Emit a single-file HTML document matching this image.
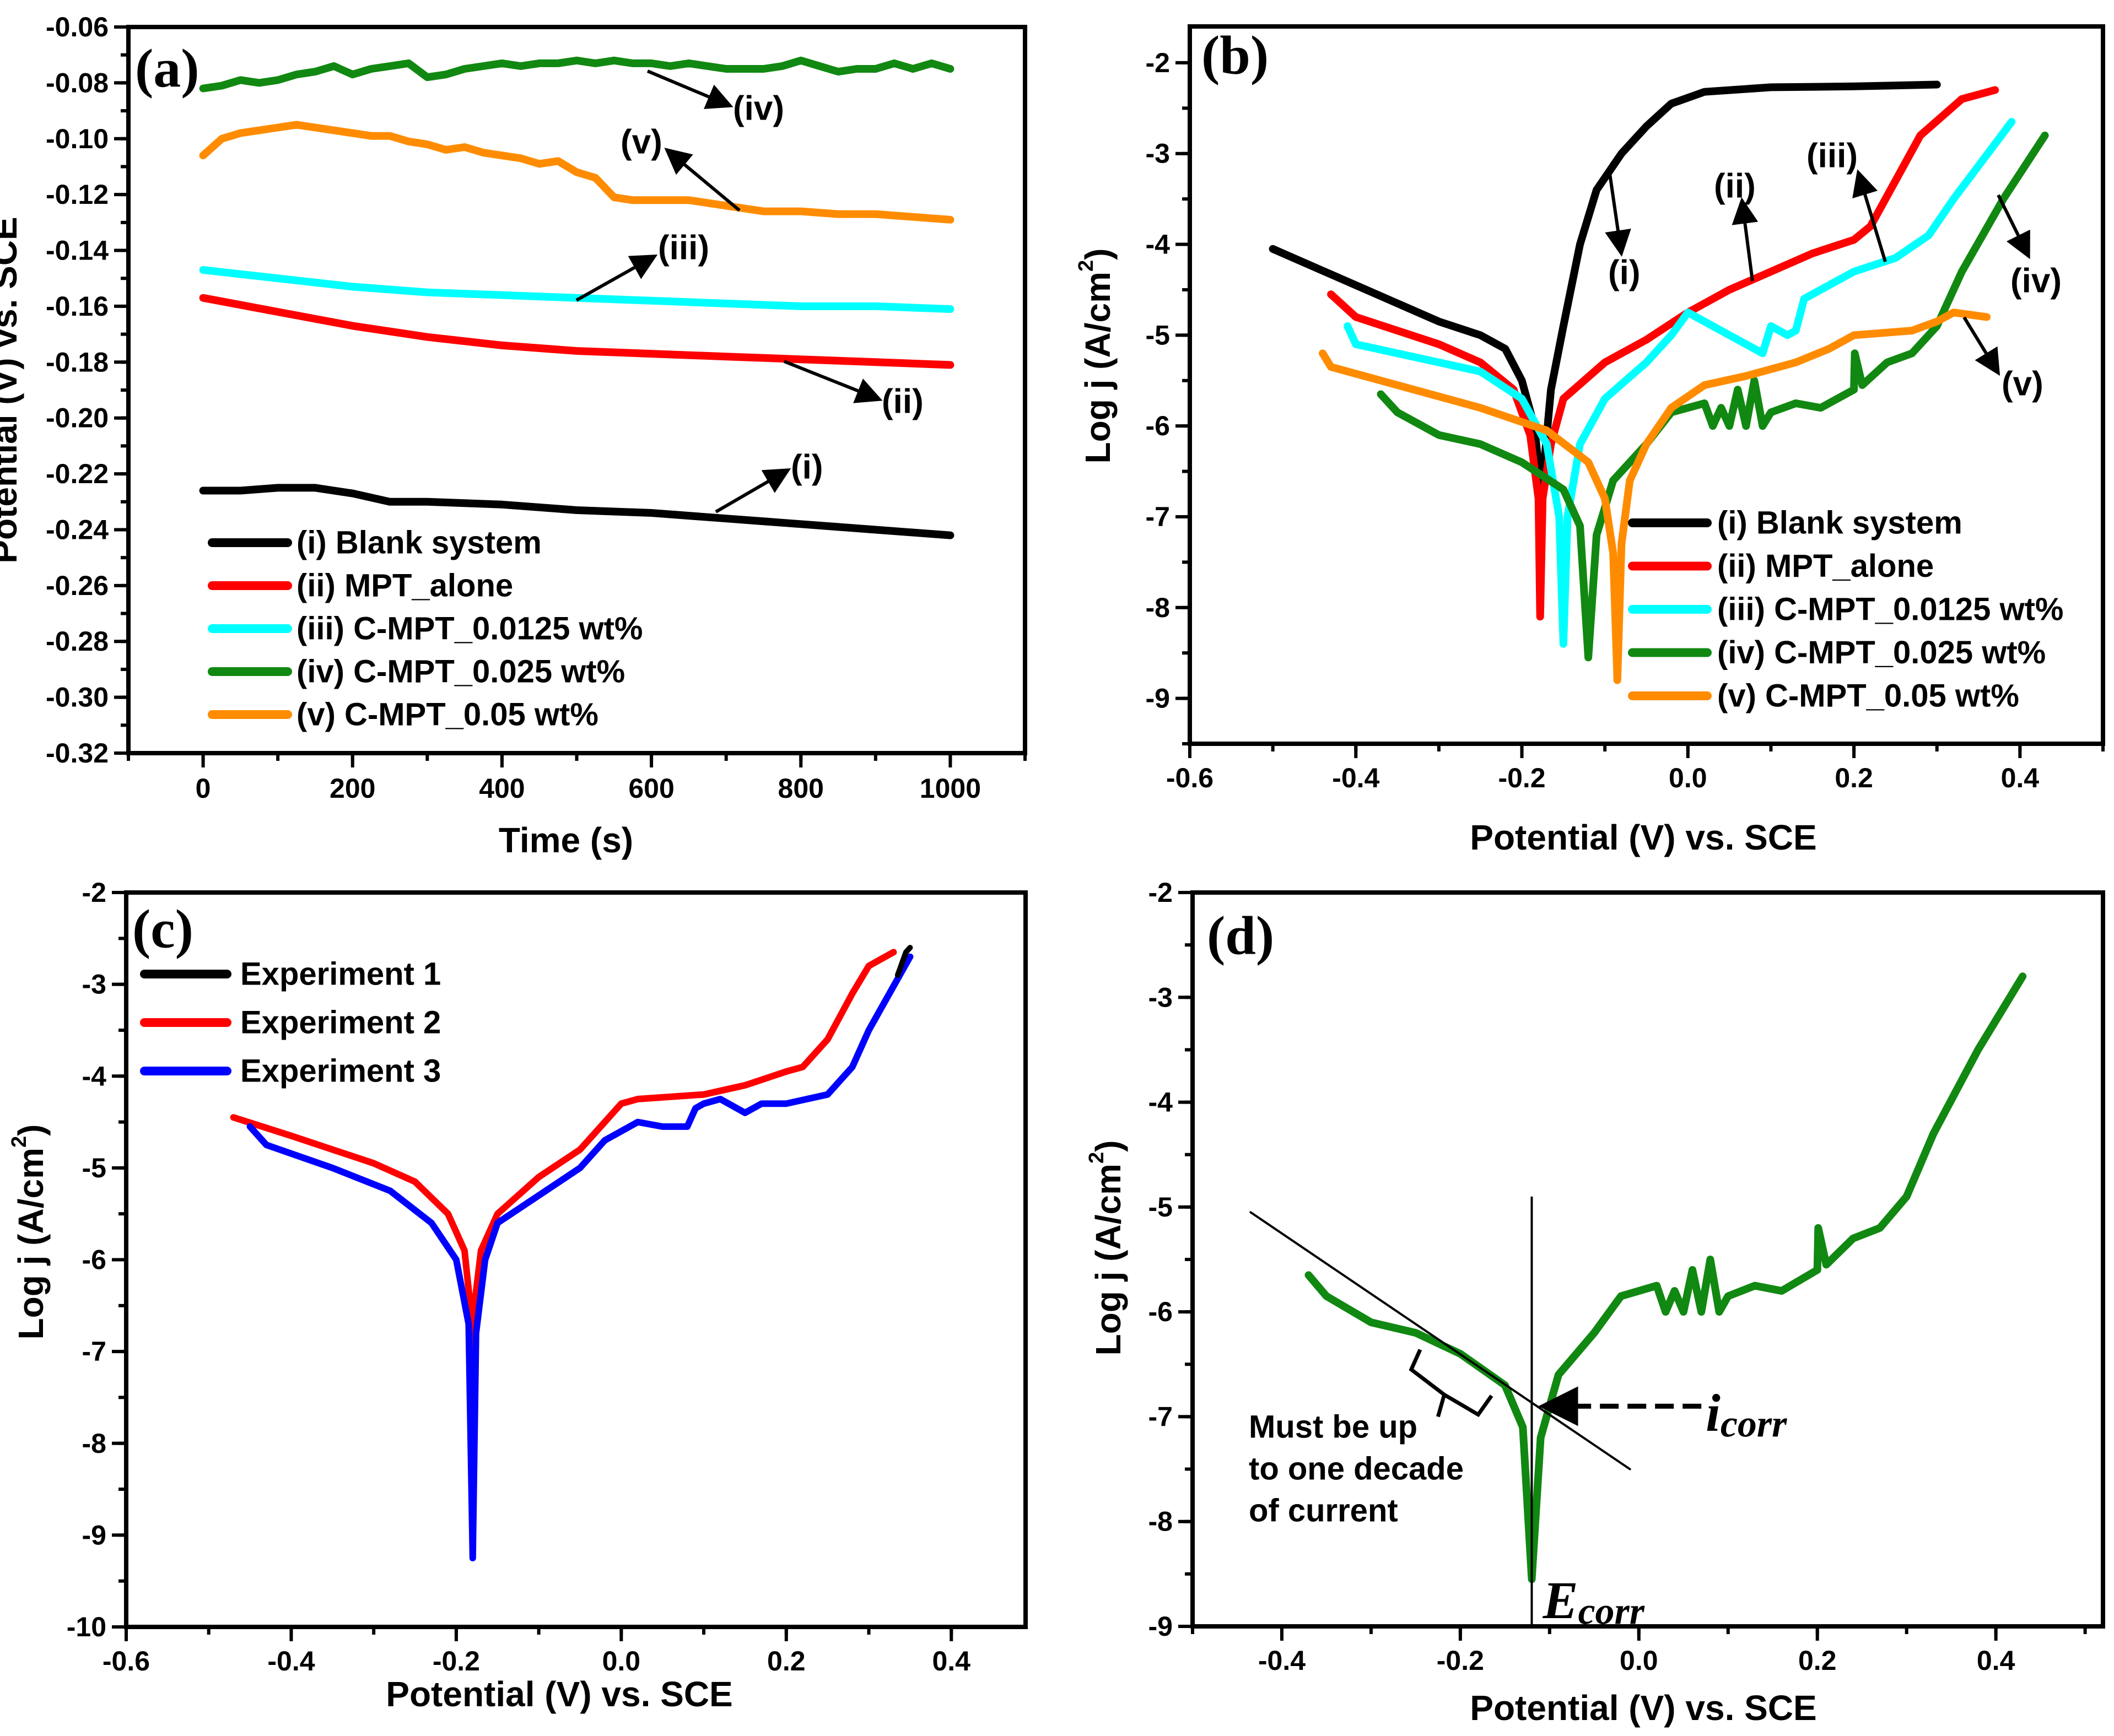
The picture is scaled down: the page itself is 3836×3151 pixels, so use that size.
<!DOCTYPE html>
<html><head><meta charset="utf-8">
<style>
html,body{margin:0;padding:0;background:#fff;}
svg{display:block;font-family:"Liberation Sans",Arial,sans-serif;}
.tl{font-size:50px;font-weight:bold;fill:#000;}
.at{font-size:64px;font-weight:bold;fill:#000;}
.lg{font-size:58px;font-weight:bold;fill:#000;}
.an{font-size:62px;font-weight:bold;fill:#000;}
.pl{font-family:"Liberation Serif",serif;font-size:100px;font-weight:bold;fill:#000;}
</style></head>
<body>
<svg id="fig" width="3836" height="3151" viewBox="0 0 3836 3151" xmlns="http://www.w3.org/2000/svg">
<defs>
<marker id="ah" markerWidth="8" markerHeight="8" refX="7" refY="4" orient="auto" markerUnits="strokeWidth"><path d="M0,0 L8,4 L0,8 Z" fill="#000"/></marker>
</defs>
<g id="layer"></g>
</svg>
<script>
// ---------- Panel (a) data: time (s) vs potential (V) ----------
const aBlankT=[0,50,100,150,200,250,300,400,500,600,700,800,900,1000];
const aBlankE=[-0.226,-0.226,-0.225,-0.225,-0.227,-0.230,-0.230,-0.231,-0.233,-0.234,-0.236,-0.238,-0.240,-0.242];
const aMptT=[0,100,200,300,400,500,600,700,800,900,1000];
const aMptE=[-0.157,-0.162,-0.167,-0.171,-0.174,-0.176,-0.177,-0.178,-0.179,-0.180,-0.181];
const aC0125T=[0,100,200,300,400,500,600,700,800,900,1000];
const aC0125E=[-0.147,-0.150,-0.153,-0.155,-0.156,-0.157,-0.158,-0.159,-0.160,-0.160,-0.161];
const aC025T=[0,25,50,75,100,125,150,175,200,225,250,275,300,325,350,375,400,425,450,475,500,525,550,575,600,625,650,675,700,725,750,775,800,825,850,875,900,925,950,975,1000];
const aC025E=[-0.082,-0.081,-0.079,-0.080,-0.079,-0.077,-0.076,-0.074,-0.077,-0.075,-0.074,-0.073,-0.078,-0.077,-0.075,-0.074,-0.073,-0.074,-0.073,-0.073,-0.072,-0.073,-0.072,-0.073,-0.073,-0.074,-0.073,-0.074,-0.075,-0.075,-0.075,-0.074,-0.072,-0.074,-0.076,-0.075,-0.075,-0.073,-0.075,-0.073,-0.075];
const aC05T=[0,25,50,75,100,125,150,175,200,225,250,275,300,325,350,375,400,425,450,475,500,525,550,575,600,650,700,750,800,850,900,950,1000];
const aC05E=[-0.106,-0.100,-0.098,-0.097,-0.096,-0.095,-0.096,-0.097,-0.098,-0.099,-0.099,-0.101,-0.102,-0.104,-0.103,-0.105,-0.106,-0.107,-0.109,-0.108,-0.112,-0.114,-0.121,-0.122,-0.122,-0.122,-0.124,-0.126,-0.126,-0.127,-0.127,-0.128,-0.129];
const aXTicks=[0,200,400,600,800,1000];
const aYTicks=[-0.06,-0.08,-0.10,-0.12,-0.14,-0.16,-0.18,-0.20,-0.22,-0.24,-0.26,-0.28,-0.30,-0.32];
const aYLabels=["-0.06","-0.08","-0.10","-0.12","-0.14","-0.16","-0.18","-0.20","-0.22","-0.24","-0.26","-0.28","-0.30","-0.32"];

// ---------- Panel (b) data: potential vs log j ----------
const bBlankE=[-0.5,-0.4,-0.3,-0.25,-0.22,-0.2,-0.185,-0.178,-0.176,-0.172,-0.165,-0.15,-0.13,-0.11,-0.08,-0.05,-0.02,0.02,0.1,0.2,0.3];
const bBlankJ=[-4.05,-4.45,-4.85,-5.0,-5.15,-5.5,-6.0,-6.6,-6.9,-6.3,-5.6,-4.9,-4.0,-3.4,-3.0,-2.7,-2.45,-2.32,-2.27,-2.26,-2.24];
const bMptE=[-0.43,-0.4,-0.3,-0.25,-0.21,-0.19,-0.18,-0.178,-0.175,-0.165,-0.15,-0.1,-0.05,0.0,0.05,0.1,0.15,0.2,0.22,0.25,0.28,0.33,0.37];
const bMptJ=[-4.55,-4.8,-5.1,-5.3,-5.6,-6.1,-6.8,-8.1,-6.8,-6.2,-5.7,-5.3,-5.05,-4.75,-4.5,-4.3,-4.1,-3.95,-3.8,-3.3,-2.8,-2.4,-2.3];
const bC0125E=[-0.41,-0.4,-0.35,-0.3,-0.25,-0.2,-0.17,-0.155,-0.15,-0.145,-0.13,-0.1,-0.05,-0.02,0.0,0.03,0.05,0.07,0.09,0.1,0.12,0.13,0.14,0.2,0.25,0.29,0.32,0.39];
const bC0125J=[-4.9,-5.1,-5.2,-5.3,-5.4,-5.7,-6.2,-7.0,-8.4,-7.0,-6.2,-5.7,-5.3,-5.0,-4.75,-4.9,-5.0,-5.1,-5.2,-4.9,-5.0,-4.95,-4.6,-4.3,-4.15,-3.9,-3.5,-2.65];
const bC025E=[-0.37,-0.35,-0.3,-0.25,-0.2,-0.15,-0.13,-0.12,-0.11,-0.09,-0.05,-0.02,0.0,0.02,0.03,0.04,0.05,0.06,0.07,0.08,0.09,0.1,0.13,0.16,0.2,0.201,0.21,0.24,0.27,0.3,0.33,0.38,0.43];
const bC025J=[-5.65,-5.85,-6.1,-6.2,-6.4,-6.7,-7.1,-8.55,-7.2,-6.6,-6.2,-5.85,-5.8,-5.75,-6.0,-5.8,-6.0,-5.6,-6.0,-5.5,-6.0,-5.85,-5.75,-5.8,-5.6,-5.2,-5.55,-5.3,-5.2,-4.9,-4.3,-3.5,-2.8];
const bC05E=[-0.44,-0.43,-0.35,-0.25,-0.17,-0.12,-0.1,-0.09,-0.085,-0.08,-0.07,-0.05,-0.02,0.02,0.07,0.13,0.17,0.2,0.27,0.3,0.32,0.36];
const bC05J=[-5.2,-5.35,-5.55,-5.8,-6.05,-6.4,-6.8,-7.4,-8.8,-7.3,-6.6,-6.2,-5.8,-5.55,-5.45,-5.3,-5.15,-5.0,-4.95,-4.85,-4.75,-4.8];
const potTicks=[-0.6,-0.4,-0.2,0.0,0.2,0.4];
const potLabels=["-0.6","-0.4","-0.2","0.0","0.2","0.4"];
const bYTicks=[-2,-3,-4,-5,-6,-7,-8,-9];

// ---------- Panel (c) data ----------
const cExp1E=[0.335,0.345,0.35];
const cExp1J=[-2.9,-2.65,-2.6];
const cExp2E=[-0.47,-0.4,-0.3,-0.25,-0.21,-0.19,-0.183,-0.181,-0.178,-0.17,-0.15,-0.1,-0.05,-0.02,0.0,0.02,0.1,0.15,0.2,0.22,0.25,0.28,0.3,0.33];
const cExp2J=[-4.45,-4.65,-4.95,-5.15,-5.5,-5.9,-6.5,-7.65,-6.5,-5.9,-5.5,-5.1,-4.8,-4.5,-4.3,-4.25,-4.2,-4.1,-3.95,-3.9,-3.6,-3.1,-2.8,-2.65];
const cExp3E=[-0.45,-0.43,-0.35,-0.28,-0.23,-0.2,-0.185,-0.18,-0.176,-0.165,-0.15,-0.1,-0.05,-0.02,0.0,0.02,0.05,0.08,0.09,0.1,0.12,0.15,0.17,0.2,0.25,0.28,0.3,0.35];
const cExp3J=[-4.55,-4.75,-5.0,-5.25,-5.6,-6.0,-6.7,-9.25,-6.8,-6.0,-5.6,-5.3,-5.0,-4.7,-4.6,-4.5,-4.55,-4.55,-4.35,-4.3,-4.25,-4.4,-4.3,-4.3,-4.2,-3.9,-3.5,-2.7];
const cYTicks=[-2,-3,-4,-5,-6,-7,-8,-9,-10];

// ---------- Panel (d) data ----------
const dTicksX=[-0.4,-0.2,0.0,0.2,0.4];
const dLabelsX=["-0.4","-0.2","0.0","0.2","0.4"];
const dYTicks=[-2,-3,-4,-5,-6,-7,-8,-9];
const dTafelE=[-0.435,-0.01];
const dTafelJ=[-5.05,-7.5];
const dEcorr=-0.12;
const dIcorr=-6.9;

const NS="http://www.w3.org/2000/svg";
const layer=document.getElementById('layer');
function el(tag,attrs,parent){const e=document.createElementNS(NS,tag);for(const k in attrs)e.setAttribute(k,attrs[k]);(parent||layer).appendChild(e);return e;}
function txt(s,x,y,cls,anchor,parent){const t=el('text',{x:x,y:y,class:cls,'text-anchor':anchor||'start','dominant-baseline':'central'},parent);t.textContent=s;return t;}
function scale(d0,d1,r0,r1){return v=>r0+(v-d0)/(d1-d0)*(r1-r0);}

function panel(o){
  const g=el('g',{});
  
  
  const X=scale(o.xd[0],o.xd[1],o.box[0],o.box[2]);
  const Y=scale(o.yd[0],o.yd[1],o.box[1],o.box[3]);
  const ax=el('g',{},g);
  
  
  o.xMinor.forEach(v=>{const x=X(v);if(x<o.box[0]-1||x>o.box[2]+1)return;el('line',{x1:x,x2:x,y1:o.box[3],y2:o.box[3]+14,stroke:'#000','stroke-width':6},ax);});
  o.yMinor.forEach(v=>{const y=Y(v);if(y<o.box[1]-1||y>o.box[3]+1)return;el('line',{x1:o.box[0],x2:o.box[0]-14,y1:y,y2:y,stroke:'#000','stroke-width':6},ax);});
  o.xt.forEach((v,i)=>{const x=X(v);el('line',{x1:x,x2:x,y1:o.box[3],y2:o.box[3]+26,stroke:'#000','stroke-width':6},ax);
    const t=txt(o.xl[i],x,o.box[3]+o.xlOff,'tl','middle',ax);
    
    });
  o.yt.forEach((v,i)=>{const y=Y(v);el('line',{x1:o.box[0],x2:o.box[0]-26,y1:y,y2:y,stroke:'#000','stroke-width':6},ax);
    const t=txt(o.yl[i],o.box[0]-o.ylOff,y,'tl','end',ax);
    
    });
  el('rect',{x:o.box[0],y:o.box[1],width:o.box[2]-o.box[0],height:o.box[3]-o.box[1],fill:'none',stroke:'#000','stroke-width':8},ax);
  const xt=txt(o.xTitle,o.xtPos[0],o.xtPos[1],'at','middle',g);
  
  
  const yt=el('text',{x:0,y:0,class:'at','text-anchor':'middle','dominant-baseline':'central',transform:`translate(${o.ytPos[0]},${o.ytPos[1]}) rotate(-90)`},g);
  
  
  if(o.yTitleSup){yt.appendChild(document.createTextNode(o.yTitle));const s=document.createElementNS(NS,'tspan');s.setAttribute('baseline-shift','super');s.setAttribute('font-size','38');s.textContent='2';yt.appendChild(s);yt.appendChild(document.createTextNode(')'));}
  else yt.textContent=o.yTitle;
  const pl=txt(o.label,o.lPos[0],o.lPos[1],'pl','start',g);
  
  
  return {g,X,Y};
}
function series(p,xs,ys,color,name,w){
  const d=xs.map((x,i)=>(i?'L':'M')+p.X(x).toFixed(1)+','+p.Y(ys[i]).toFixed(1)).join(' ');
  const path=el('path',{d:d,fill:'none',stroke:color,'stroke-width':w||14,'stroke-linejoin':'round','stroke-linecap':'round'},p.g);
  
  
  return path;
}
function legend(p,x1,x2,tx,y,color,label){
  const g=el('g',{},p.g);
  
  
  el('line',{x1:x1,x2:x2,y1:y,y2:y,stroke:color,'stroke-width':16,'stroke-linecap':'round'},g);
  txt(label,tx,y,'lg','start',g);
}
function annot(p,label,tx,ty,ax1,ay1,ax2,ay2){
  const g=el('g',{},p.g);
  
  
  el('line',{x1:ax1,y1:ay1,x2:ax2,y2:ay2,stroke:'#000','stroke-width':6,'marker-end':'url(#ah)'},g);
  txt(label,tx,ty,'an','start',g);
}
function range(a,b,s){const r=[];for(let v=a;v<=b+1e-9;v+=s)r.push(+v.toFixed(4));return r;}

// ---------- Panel a ----------
const pa=panel({name:'panel-a',box:[233,49,1860,1367],xd:[-100,1100],yd:[-0.06,-0.32],
  xt:aXTicks,xl:aXTicks.map(String),yt:aYTicks,yl:aYLabels,xMinor:range(-100,1100,100),yMinor:range(-0.32,-0.06,0.01),
  xlOff:64,ylOff:36,xTitle:'Time (s)',xtPos:[1027,1525],yTitle:'Potential (V) vs. SCE',ytPos:[8,708],label:'(a)',lPos:[245,124]});
series(pa,aBlankT,aBlankE,'#000','series-blank-system');
series(pa,aMptT,aMptE,'#ff0000','series-mpt-alone');
series(pa,aC0125T,aC0125E,'#00ffff','series-c-mpt-0.0125');
series(pa,aC025T,aC025E,'#118811','series-c-mpt-0.025');
series(pa,aC05T,aC05E,'#ff8c00','series-c-mpt-0.05');
[['#000','(i) Blank system'],['#ff0000','(ii) MPT_alone'],['#00ffff','(iii) C-MPT_0.0125 wt%'],['#118811','(iv) C-MPT_0.025 wt%'],['#ff8c00',' (v) C-MPT_0.05 wt%']].forEach((e,i)=>legend(pa,385,522,538,985+i*78,e[0],e[1]));
annot(pa,'(iv)',1330,197,1175,129,1325,192);
annot(pa,'(v)',1126,258,1342,382,1210,272);
annot(pa,'(iii)',1194,450,1046,545,1188,465);
annot(pa,'(ii)',1600,729,1423,656,1596,725);
annot(pa,'(i)',1435,848,1299,929,1430,853);

// ---------- Panel b ----------
const pb=panel({name:'panel-b',box:[2159,48,3816,1350],xd:[-0.6,0.5],yd:[-1.6,-9.5],
  xt:potTicks,xl:potLabels,yt:bYTicks,yl:bYTicks.map(String),xMinor:range(-0.6,0.5,0.1),yMinor:range(-9.5,-1.5,0.5),
  xlOff:62,ylOff:36,xTitle:'Potential (V) vs. SCE',xtPos:[2982,1520],yTitle:'Log j (A/cm',yTitleSup:true,ytPos:[1992,646],label:'(b)',lPos:[2180,100]});
series(pb,bBlankE,bBlankJ,'#000','series-blank-system');
series(pb,bMptE,bMptJ,'#ff0000','series-mpt-alone');
series(pb,bC0125E,bC0125J,'#00ffff','series-c-mpt-0.0125');
series(pb,bC025E,bC025J,'#118811','series-c-mpt-0.025');
series(pb,bC05E,bC05J,'#ff8c00','series-c-mpt-0.05');
[['#000','(i) Blank system'],['#ff0000','(ii) MPT_alone'],['#00ffff','(iii) C-MPT_0.0125 wt%'],['#118811','(iv) C-MPT_0.025 wt%'],['#ff8c00',' (v) C-MPT_0.05 wt%']].forEach((e,i)=>legend(pb,2962,3098,3116,949+i*78.5,e[0],e[1]));
annot(pb,'(i)',2918,495,2920,308,2942,460);
annot(pb,'(ii)',3110,338,3180,510,3161,364);
annot(pb,'(iii)',3278,283,3421,475,3372,313);
annot(pb,'(iv)',3648,510,3626,354,3681,465);
annot(pb,'(v)',3632,697,3564,576,3626,677);

// ---------- Panel c ----------
const pc=panel({name:'panel-c',box:[229,1620,1861,2953],xd:[-0.6,0.49],yd:[-2,-10],
  xt:potTicks,xl:potLabels,yt:cYTicks,yl:cYTicks.map(String),xMinor:range(-0.6,0.5,0.1),yMinor:range(-10,-2,0.5),
  xlOff:62,ylOff:36,xTitle:'Potential (V) vs. SCE',xtPos:[1015,3075],yTitle:'Log j (A/cm',yTitleSup:true,ytPos:[56,2236],label:'(c)',lPos:[240,1686]});
series(pc,cExp2E,cExp2J,'#ff0000','series-experiment-2',12);
series(pc,cExp3E,cExp3J,'#0000ff','series-experiment-3',12);
series(pc,cExp1E,cExp1J,'#000','series-experiment-1',10);
[['#000','Experiment 1'],['#ff0000','Experiment 2'],['#0000ff','Experiment 3']].forEach((e,i)=>legend(pc,262,412,436,1768+i*88,e[0],e[1]));

// ---------- Panel d ----------
const pd=panel({name:'panel-d',box:[2164,1620,3816,2952],xd:[-0.5,0.52],yd:[-2,-9],
  xt:dTicksX,xl:dLabelsX,yt:dYTicks,yl:dYTicks.map(String),xMinor:range(-0.5,0.5,0.1),yMinor:range(-9,-2,0.5),
  xlOff:62,ylOff:36,xTitle:'Potential (V) vs. SCE',xtPos:[2982,3100],yTitle:'Log j (A/cm',yTitleSup:true,ytPos:[2011,2265],label:'(d)',lPos:[2190,1698]});
series(pd,bC025E,bC025J,'#118811','series-c-mpt-0.025');
const tf=series(pd,dTafelE,dTafelJ,'#000','tafel-fit-line',4);
const vl=el('line',{x1:pd.X(dEcorr),x2:pd.X(dEcorr),y1:pd.Y(-4.9),y2:pd.Y(-9),stroke:'#000','stroke-width':4},pd.g);


const dash=el('line',{x1:pd.X(0.07),x2:pd.X(-0.107),y1:pd.Y(dIcorr),y2:pd.Y(dIcorr),stroke:'#000','stroke-width':9,'stroke-dasharray':'34,16','marker-end':'url(#ah)'},pd.g);


const ic=el('text',{x:pd.X(0.07)+8,y:pd.Y(dIcorr)+12,'font-family':'Liberation Serif,serif','font-style':'italic','font-weight':'bold','font-size':96,'dominant-baseline':'central'},pd.g);


ic.innerHTML='i<tspan font-size="70" dy="20">corr</tspan>';
const ec=el('text',{x:pd.X(dEcorr)+20,y:pd.Y(-8.75),'font-family':'Liberation Serif,serif','font-style':'italic','font-weight':'bold','font-size':96,'dominant-baseline':'central'},pd.g);


ec.innerHTML='E<tspan font-size="70" dy="20">corr</tspan>';
const br=el('path',{d:`M${pd.X(-0.245)},${pd.Y(-6.36)} L${pd.X(-0.255)},${pd.Y(-6.55)} L${pd.X(-0.218)},${pd.Y(-6.79)} L${pd.X(-0.225)},${pd.Y(-7.0)} M${pd.X(-0.218)},${pd.Y(-6.79)} L${pd.X(-0.18)},${pd.Y(-6.98)} L${pd.X(-0.165)},${pd.Y(-6.8)}`,fill:'none',stroke:'#000','stroke-width':7},pd.g);


['Must be up','to one decade','of current'].forEach((s,i)=>{const t=txt(s,2266,2590+i*76,'lg','start',pd.g);t.setAttribute('font-size','52');
  
  });
</script>
</body></html>
